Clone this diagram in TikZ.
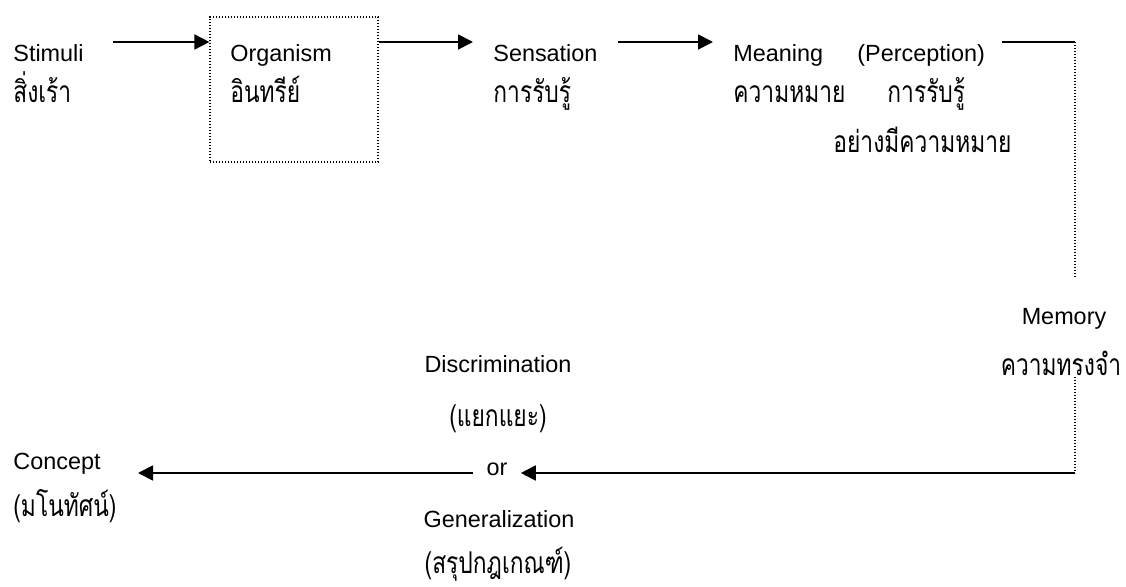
\documentclass[tikz,border=0pt]{standalone}
\usepackage{fontspec}
\setmainfont{Liberation Sans}
\newfontfamily\thaifont[Script=Thai,FakeStretch=0.76]{Loma}
\usetikzlibrary{positioning,arrows.meta}

\tikzset{
	lbl/.style={inner sep=0pt, anchor=base west, font=\fontsize{11.7}{14}\selectfont},
	thlbl/.style={inner sep=0pt, anchor=base west, font=\thaifont\fontsize{15}{18}\selectfont},
	arr/.style={-{Triangle[length=7.5pt,width=7.5pt]}, line width=0.9pt},
	dotline/.style={line width=0.6pt, dash pattern=on 0.6pt off 0.9pt},
}

\begin{document}
\begin{tikzpicture}[x=0.5pt, y=-0.5pt]
	\useasboundingbox (0,0) rectangle (1126,587);
	% top row
	\node[lbl] (St) at (13,62) {Stimuli};
	\node[thlbl] (StT) at (13,103) {สิ่งเร้า};
	\node[draw, dotline, inner sep=0pt, minimum width=84pt, minimum height=72.5pt] (Org) at (294,89.5) {};
	\node[lbl] (OrgE) at (230,62) {Organism};
	\node[thlbl] (OrgT) at (230,103) {อินทรีย์};
	\node[lbl] (Sen) at (493,62) {Sensation};
	\node[thlbl] (SenT) at (493,103) {การรับรู้};
	\node[lbl] (Mea) at (733,62) {Meaning};
	\node[lbl] (Per) at (857,62) {(Perception)};
	\node[thlbl] (MeaT) at (733,103) {ความหมาย};
	\node[thlbl] (PerT) at (887,103) {การรับรู้};
	\node[thlbl] (PerT2) at (833,153) {อย่างมีความหมาย};
	% right side
	\node[lbl, anchor=base] (Mem) at (1064,325) {Memory};
	\node[thlbl, anchor=base] (MemT) at (1061,376) {ความทรงจำ};
	% bottom row
	\node[lbl, anchor=base] (Dis) at (498,373) {Discrimination};
	\node[thlbl, anchor=base] (DisT) at (498,427) {(แยกแยะ)};
	\node[lbl, anchor=base, inner xsep=6.5pt] (Or) at (497,476) {or};
	\node[lbl, anchor=base] (Gen) at (499,528) {Generalization};
	\node[thlbl, anchor=base] (GenT) at (498,574) {(สรุปกฎเกณฑ์)};
	\node[lbl] (Con) at (13,470) {Concept};
	\node[thlbl] (ConT) at (13,517) {(มโนทัศน์)};
	% corners and free ends
	\coordinate (A1) at (113,42);
	\coordinate (A2) at (473,42);
	\coordinate (A3) at (618,42);
	\coordinate (A4) at (713,42);
	\coordinate (P1) at (1002,42);
	\coordinate (P2) at (1075,42);
	\coordinate (P3) at (1075,278);
	\coordinate (P4) at (1075,377);
	\coordinate (P5) at (1075,473);
	\coordinate (C1) at (138,473);
	% connectors
	\draw[arr] (A1) -- (A1 -| Org.west);
	\draw[arr] (Org.east |- A2) -- (A2);
	\draw[arr] (A3) -- (A4);
	\draw[line width=0.9pt] (P1) -- (P2);
	\draw[dotline] (P2) -- (P3);
	\draw[dotline] (P4) -- (P5);
	\draw[arr] (P5) -- (Or.east |- P5);
	\draw[arr] (Or.west |- P5) -- (C1);
\end{tikzpicture}
\end{document}
